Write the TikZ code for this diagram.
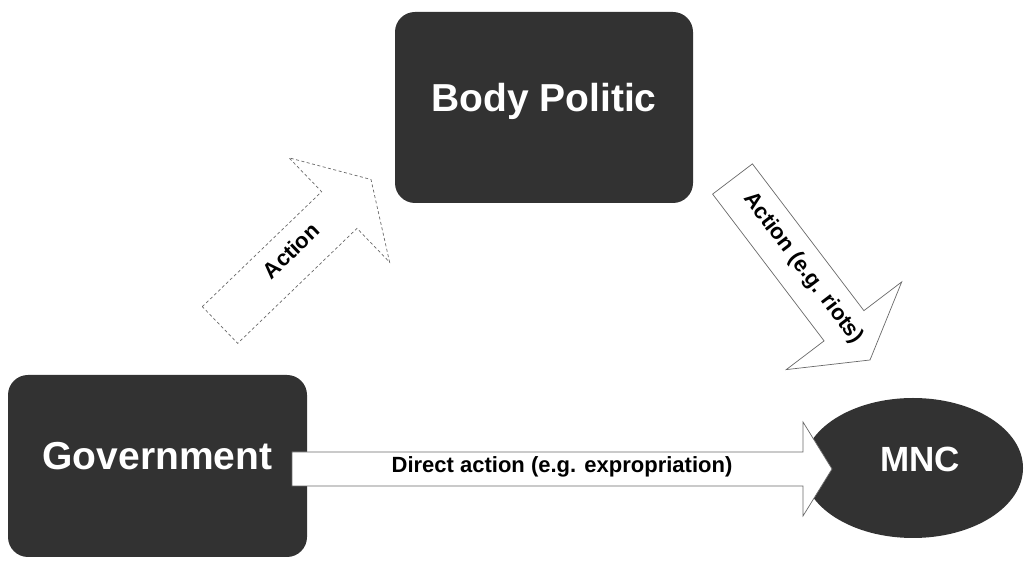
\documentclass[tikz,border=0pt]{standalone}
\usepackage{fontspec}
\setmainfont{Liberation Sans}
\usetikzlibrary{calc,shapes.geometric}
\definecolor{boxfill}{RGB}{50,50,50}
\definecolor{arrowline}{RGB}{105,105,105}

% #1 options, #2 tail, #3 tip, #4 shaft half width, #5 head half width, #6 head length
\newcommand\blockarrow[6]{%
  \path ($(#3)!#6!(#2)$) coordinate (hb);
  \draw[#1] ($(#2)!#4!90:(#3)$) -- ($(hb)!#4!90:(#3)$) -- ($(hb)!#5!90:(#3)$)
    -- (#3) -- ($(hb)!#5!-90:(#3)$) -- ($(hb)!#4!-90:(#3)$) -- ($(#2)!#4!-90:(#3)$) -- cycle;
}

\tikzset{
  darkbox/.style={fill=boxfill, draw=none, rounded corners=20pt, text=white,
    font=\fontsize{39}{41}\selectfont\bfseries, text height=0.716em, text depth=0pt,
    inner sep=0pt},
  darkell/.style={ellipse, fill=boxfill, draw=none, text=white,
    font=\fontsize{35}{37}\selectfont\bfseries, text height=0.716em, text depth=0pt,
    inner sep=0pt},
  blockarr/.style={draw=arrowline, fill=white, line width=0.7pt, line join=miter},
  dashedarr/.style={draw=arrowline, fill=white, line width=0.7pt, dash pattern=on 3pt off 2.5pt},
  smalllabel/.style={font=\fontsize{22}{24}\selectfont\bfseries, text=black, inner sep=0pt,
    text height=0.716em, text depth=0pt}
}

\begin{document}
\begin{tikzpicture}[x=1pt,y=1pt]
\useasboundingbox (0,0) rectangle (1025,561);

\node[darkbox, minimum width=299pt, minimum height=182pt] (gov) at (157.5,95) {Government};
\node[darkbox, minimum width=298pt, minimum height=191pt] (body) at (544,453.5) {Body Politic};
\node[darkell, minimum width=220pt, minimum height=140pt] (mnc) at (913,93) {\hspace*{14pt}MNC};

% direct action arrow
\coordinate (da) at (292,92);
\coordinate (db) at (832,92);
\blockarrow{blockarr}{da}{db}{17pt}{47pt}{29pt}
\path (da) -- (db) node[pos=0.5, smalllabel] (dlab) {Direct action (e.g. expropriation)};

% government -> body politic (dashed)
\coordinate (aa) at (220,236);
\coordinate (ab) at (371,381.5);
\blockarrow{dashedarr}{aa}{ab}{25.5pt}{72.5pt}{44pt}
\path (aa) -- (ab) node[pos=0.49, sloped, smalllabel] (alab) {Action};

% body politic -> MNC
\coordinate (ra) at (732.5,382);
\coordinate (rb) at (870,201);
\blockarrow{blockarr}{ra}{rb}{25pt}{72.5pt}{43pt}
\path (ra) -- (rb) node[pos=0.5, sloped, smalllabel] (rlab) {Action (e.g. riots)};
\end{tikzpicture}
\end{document}
